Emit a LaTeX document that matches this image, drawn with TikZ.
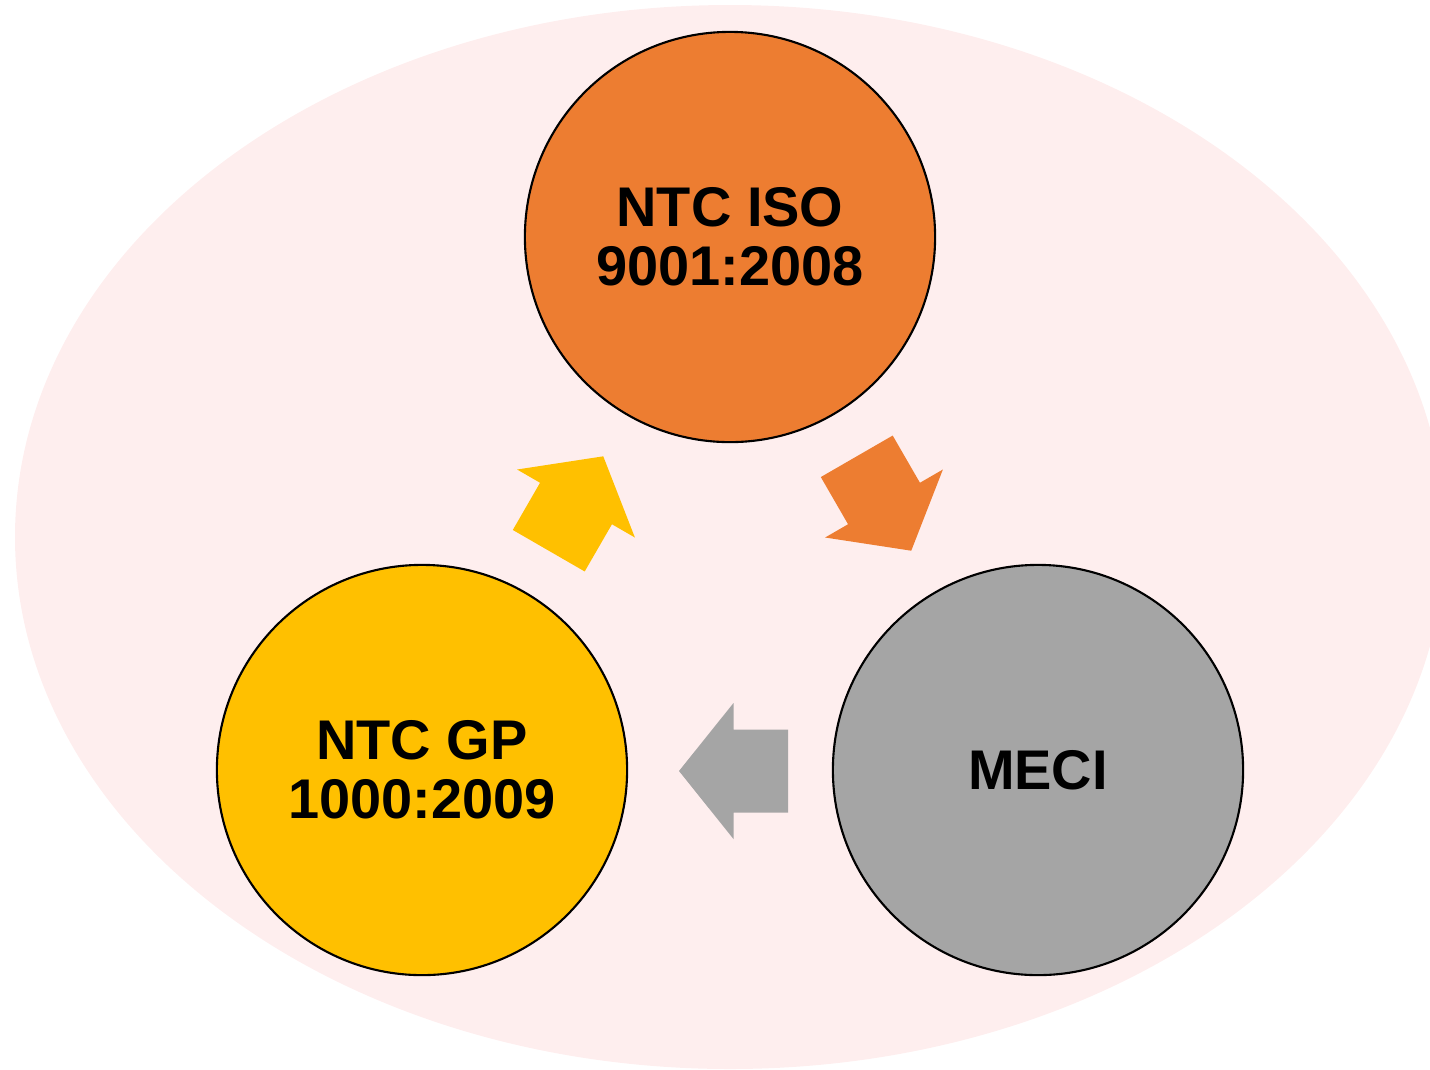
\documentclass[tikz,border=0pt]{standalone}
\usepackage{fontspec}
\setmainfont{Liberation Sans}
\usetikzlibrary{calc}
\definecolor{cyclepink}{HTML}{FEEEEE}
\definecolor{cycleorange}{HTML}{ED7D31}
\definecolor{cycleyellow}{HTML}{FFC000}
\definecolor{cyclegray}{HTML}{A5A5A5}

\tikzset{
  stage/.style={circle,draw=black,line width=0.6pt,minimum size=4.1cm,
    align=center,font=\fontsize{15.9}{16.8}\selectfont\bfseries},
  blockarrow/.pic={
    \fill (-54.5,-41.5) -- (0,-41.5) -- (0,-68) -- (54.5,0) -- (0,68)
      -- (0,41.5) -- (-54.5,41.5) -- cycle;
  }
}

\begin{document}
\begin{tikzpicture}[x=0.01cm,y=-0.01cm]
    \clip (0,0) rectangle (1430,1069);
    \fill[cyclepink] (730,537) ellipse [x radius=715,y radius=532];
    \node[stage,fill=cycleorange] (iso) at (730,237) {NTC ISO\\9001:2008};
    \node[stage,fill=cyclegray] (meci) at (1038,770) {MECI};
    \node[stage,fill=cycleyellow] (gp) at (422,770) {NTC GP\\1000:2009};
    \pic[rotate=-60,fill=cycleorange] at ($(iso)!0.5!(meci)$) {blockarrow};
    \pic[rotate=180,fill=cyclegray] at ($(meci)!0.5!(gp)+(3.5,1)$) {blockarrow};
    \pic[rotate=60,fill=cycleyellow] at ($(gp)!0.5!(iso)$) {blockarrow};
  \end{tikzpicture}
\end{document}
